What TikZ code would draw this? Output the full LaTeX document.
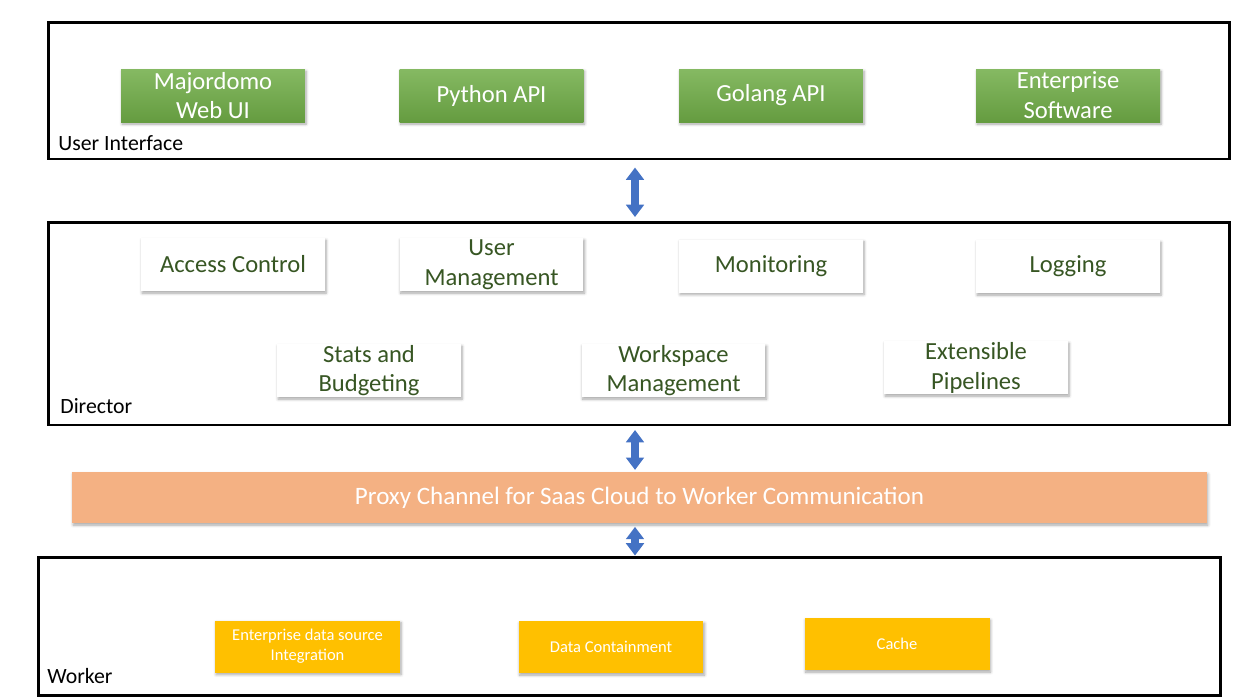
\documentclass[tikz,border=0pt]{standalone}
\usepackage{fontspec}
\setmainfont{Carlito}
\usetikzlibrary{shadows.blur,arrows.meta}
\definecolor{uigreen}{HTML}{70AD47}
\definecolor{txtgreen}{HTML}{375623}
\definecolor{proxyorange}{HTML}{F4B183}
\definecolor{workgold}{HTML}{FFC000}
\definecolor{arrowblue}{HTML}{4472C4}
\begin{document}
\begin{tikzpicture}[x=0.02cm,y=-0.02cm,
    softshadow/.style={blur shadow={shadow blur steps=6,shadow xshift=0.6pt,shadow yshift=-1.2pt,
        shadow blur radius=1.6pt,shadow opacity=35}},
    layer/.style={draw=black,line width=1.7pt,minimum width=23.64cm,inner sep=0pt},
    greenbox/.style={top color=uigreen!85!white,bottom color=uigreen!90!black,text=white,
        minimum width=3.68cm,minimum height=1.06cm,inner sep=0pt,align=center,
        font=\fontsize{14}{17}\selectfont,softshadow},
    whitebox/.style={fill=white,text=txtgreen,
        minimum width=3.68cm,minimum height=1.06cm,inner sep=0pt,align=center,
        font=\fontsize{14}{17}\selectfont,softshadow},
    goldbox/.style={fill=workgold,text=white,
        minimum width=3.7cm,minimum height=1.04cm,inner sep=0pt,align=center,
        font=\fontsize{9.4}{11.5}\selectfont,softshadow},
    layerlabel/.style={anchor=west,inner sep=0pt,font=\fontsize{12.4}{14}\selectfont},
    link/.style={arrowblue,line width=4.5pt,{Triangle[width=10pt,length=7pt]}-{Triangle[width=10pt,length=7pt]}}]
\useasboundingbox (0,0) rectangle (1256,698);
% layers
\node[layer,minimum height=2.74cm] (ui) at (639,90.5) {};
\node[layer,minimum height=4.06cm] (dir) at (639,323.5) {};
\node[layer,minimum width=23.66cm,minimum height=2.76cm] (work) at (629.5,626) {};
\node[layerlabel] (uilbl) at (58,143) {User Interface};
\node[layerlabel] (dirlbl) at (60,406) {Director};
\node[layerlabel] (worklbl) at (47,676) {Worker};
% user interface
\node[greenbox] (major) at (213,95.5) {Majordomo\\Web UI};
\node[greenbox] (pyapi) at (491.5,95.5) {Python API};
\node[greenbox] (goapi) at (771,95.5) {Golang API};
\node[greenbox] (entsw) at (1068,95.5) {Enterprise\\Software};
% director
\node[whitebox] (access) at (233,264.5) {Access Control};
\node[whitebox] (usermgmt) at (491.5,264.5) {User\\Management};
\node[whitebox] (monitor) at (771,266) {Monitoring};
\node[whitebox] (logging) at (1068,266.5) {Logging};
\node[whitebox] (stats) at (369,370.5) {Stats and\\Budgeting};
\node[whitebox] (wsmgmt) at (673.5,370.5) {Workspace\\Management};
\node[whitebox] (extpipe) at (976,367.5) {Extensible\\Pipelines};
% proxy
\node[fill=proxyorange,text=white,minimum width=22.7cm,minimum height=1.02cm,inner sep=0pt,
    font=\fontsize{14.25}{16}\selectfont,softshadow]
    (proxy) at (639.5,497.5) {Proxy Channel for Saas Cloud to Worker Communication};
% worker
\node[goldbox] (entdata) at (307.5,646.5) {Enterprise data source\\Integration};
\node[goldbox] (contain) at (611,647) {Data Containment};
\node[goldbox] (cache) at (897,644) {Cache};
% links
\coordinate (ax) at (635,0);
\draw[link,shorten <=4pt,shorten >=2pt] (ui.south -| ax) -- (dir.north -| ax);
\draw[link,shorten <=2pt,shorten >=1pt] (dir.south -| ax) -- (proxy.north -| ax);
\draw[link,shorten <=2pt] (proxy.south -| ax) -- (work.north -| ax);
\end{tikzpicture}
\end{document}
